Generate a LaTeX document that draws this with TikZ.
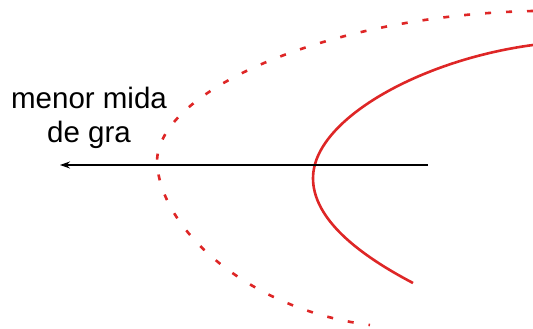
\documentclass[tikz,border=0pt]{standalone}
\usepackage{fontspec}
\setmainfont{Liberation Sans}
\usetikzlibrary{arrows.meta}
\definecolor{cred}{RGB}{222,38,38}
\begin{document}
\begin{tikzpicture}[x=1pt,y=-1pt,
  solidcurve/.style={cred,line width=2.6pt},
  dashcurve/.style={cred,line width=2.6pt,dash pattern=on 6pt off 15pt},
  axisarrow/.style={black,line width=1.3pt,-{Stealth[length=10pt,width=7pt]}},
  lbl/.style={align=center,font=\fontsize{29.5}{34}\selectfont,inner sep=0pt}]
\useasboundingbox (0,0) rectangle (533,329);
% dashed curve
\coordinate (dtop) at (533,11);
\coordinate (dvert) at (157,162);
\coordinate (dbot) at (370,325);
\draw[dashcurve] (dtop) .. controls (330,15) and (157,90) .. (dvert)
  .. controls (160,230) and (250,310) .. (dbot);
% solid curve
\coordinate (stop) at (533,45);
\coordinate (svert) at (313,178);
\coordinate (sbot) at (413,283);
\draw[solidcurve] (stop) .. controls (420,60) and (313,120) .. (svert)
  .. controls (313,215) and (350,250) .. (sbot);
% arrow
\coordinate (start) at (428,165);
\coordinate (tip) at (60,165);
\draw[axisarrow] (start) -- (tip);
\node[lbl,anchor=base] (label) at (89,142) {menor mida\\de gra};
\end{tikzpicture}
\end{document}
